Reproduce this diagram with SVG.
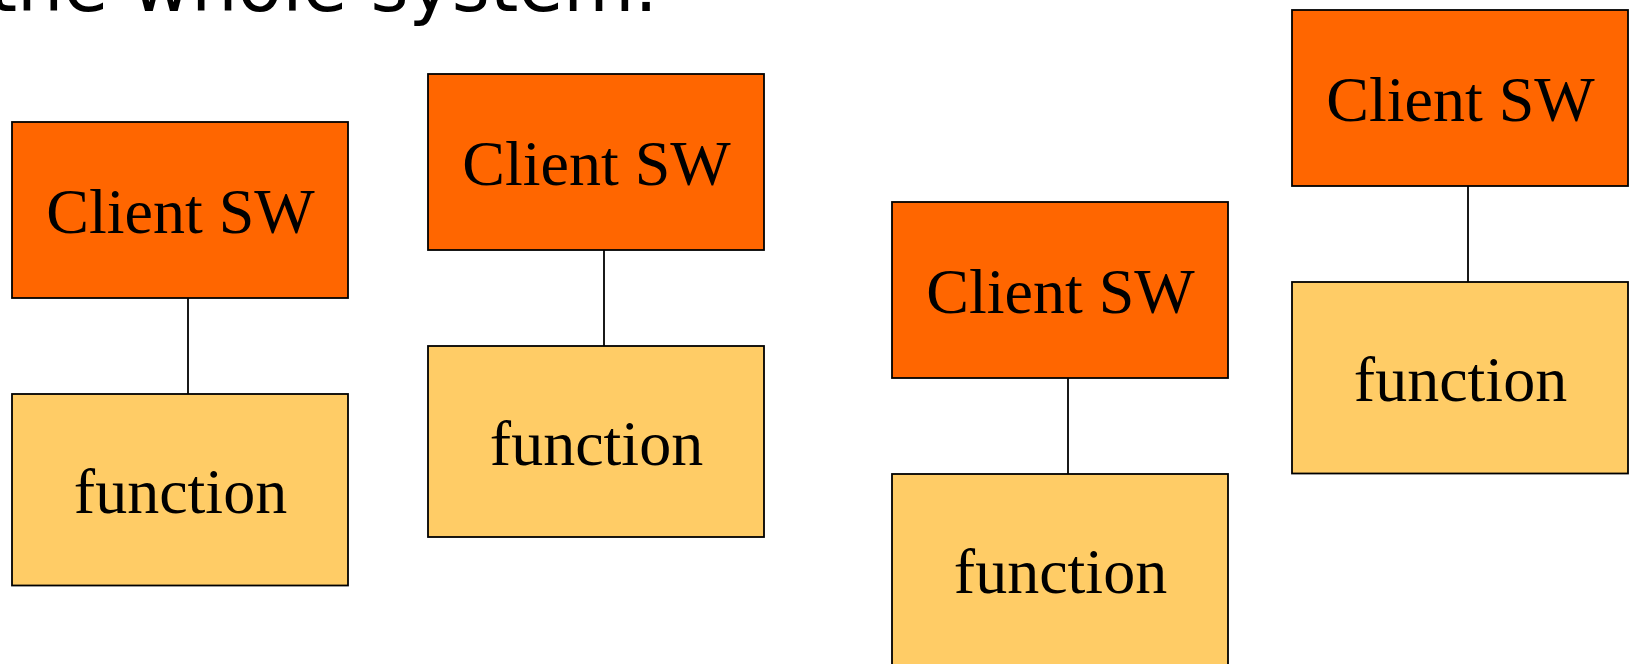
<svg xmlns="http://www.w3.org/2000/svg" width="1631" height="664" viewBox="0 0 1631 664">
  <style>
    .client { fill: #FF6600; stroke: #000; stroke-width: 1.8; }
    .func { fill: #FFCC66; stroke: #000; stroke-width: 1.8; }
    .lbl { font-family: "Liberation Serif", "Times New Roman", serif; font-size: 64px; fill: #000; text-anchor: middle; }
    .title { font-family: "DejaVu Sans", Verdana, sans-serif; font-size: 73px; fill: #000; }
    .link { stroke: #000; stroke-width: 1.8; fill: none; }
  </style>
  <rect width="1631" height="664" fill="#fff"/>

  <!-- heading line, mostly above the top edge -->
  <text class="title" x="-11.5" y="10.5">the whole system.</text>

  <!-- connectors between each client and its function -->
  <g id="connectors">
    <line class="link" x1="188" y1="298" x2="188" y2="394"/>
    <line class="link" x1="604" y1="250" x2="604" y2="346"/>
    <line class="link" x1="1068" y1="378" x2="1068" y2="474"/>
    <line class="link" x1="1468" y1="186" x2="1468" y2="282"/>
  </g>

  <g id="client1">
    <rect class="client" x="12" y="122" width="336" height="176"/>
    <text class="lbl" x="180.5" y="233.3">Client SW</text>
  </g>
  <g id="function1">
    <rect class="func" x="12" y="394" width="336" height="191.5"/>
    <text class="lbl" x="180.5" y="512.7">function</text>
  </g>

  <g id="client2">
    <rect class="client" x="428" y="74" width="336" height="176"/>
    <text class="lbl" x="596.5" y="185.3">Client SW</text>
  </g>
  <g id="function2">
    <rect class="func" x="428" y="346" width="336" height="191"/>
    <text class="lbl" x="596.5" y="464.7">function</text>
  </g>

  <g id="client3">
    <rect class="client" x="892" y="202" width="336" height="176"/>
    <text class="lbl" x="1060.5" y="313.3">Client SW</text>
  </g>
  <g id="function3">
    <rect class="func" x="892" y="474" width="336" height="192"/>
    <text class="lbl" x="1060.5" y="592.7">function</text>
  </g>

  <g id="client4">
    <rect class="client" x="1292" y="10" width="336" height="176"/>
    <text class="lbl" x="1460.5" y="121.3">Client SW</text>
  </g>
  <g id="function4">
    <rect class="func" x="1292" y="282" width="336" height="191.5"/>
    <text class="lbl" x="1460.5" y="400.5">function</text>
  </g>
</svg>
